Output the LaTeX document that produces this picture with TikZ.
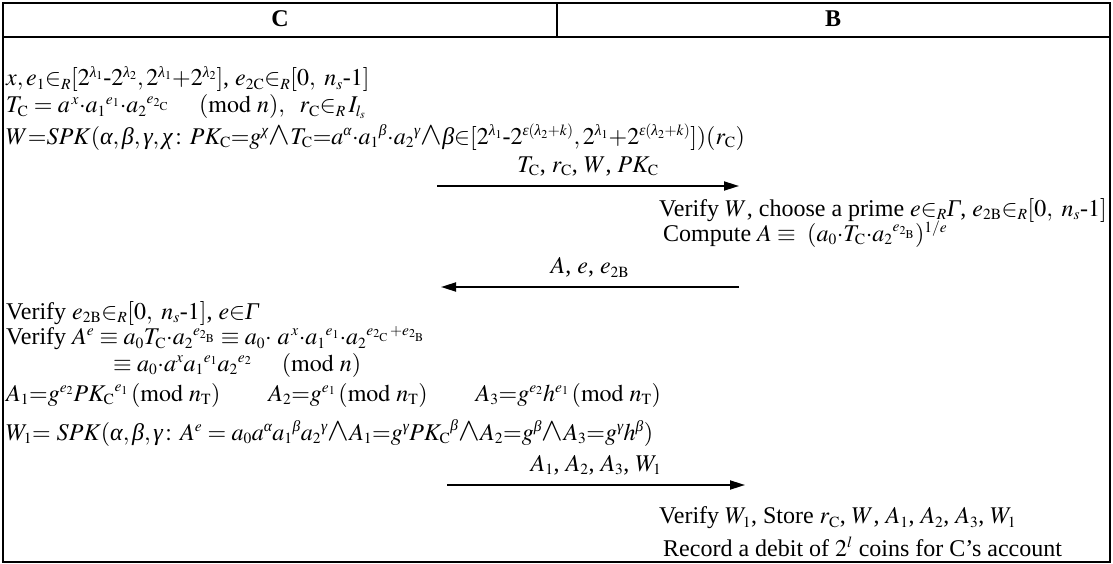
\documentclass[tikz,border=0pt]{standalone}
\usepackage{amsmath}
\usepackage{mathptmx}
\usepackage[no-math]{fontspec}
\setmainfont{Liberation Serif}
\usepackage{tikz}
\usetikzlibrary{arrows.meta,positioning}

\DeclareMathSizes{24}{24}{15.5}{12}
\newcommand{\inR}{\in_{R}}
\newcommand{\rmC}{\mathrm{C}}
\newcommand{\rmB}{\mathrm{B}}
\newcommand{\hy}{\mbox{-}}
\newcommand{\Gam}{\textit{Γ}}
\newcommand{\gal}{\textit{α}}
\newcommand{\gbe}{\textit{β}}
\newcommand{\gga}{\textit{γ}}
\newcommand{\gch}{\textit{χ}}
\newcommand{\gla}{\textit{λ}}
\newcommand{\gep}{\textit{ε}}
\newcommand{\band}{\mathbin{\scalebox{1.35}{$\wedge$}}}

\tikzset{
  txt/.style={inner sep=0pt, font=\fontsize{24}{28}\selectfont},
  msg/.style={line width=1.8pt, -{Triangle[length=15pt,width=9pt]}},
}

\begin{document}
\begin{tikzpicture}[x=1pt,y=-1pt]
\useasboundingbox (0,0) rectangle (1113,564);
% ----- table frame -----
\draw[line width=1.8pt] (3,3) rectangle (1110,562);
\draw[line width=1.5pt] (3,37) -- (1110,37);
\draw[line width=1.2pt] (557,3) -- (557,37);
\node[txt] (hC) at (280,19) {\textbf{C}};
\node[txt] (hB) at (833,19) {\textbf{B}};
% ----- C: commitment -----
\node[txt, anchor=west] (c1) at (6,79)
  {$x,e_1{\inR}[2^{\gla_1}\hy2^{\gla_2},2^{\gla_1}{+}2^{\gla_2}]$, $e_{2\rmC}{\inR}[0,\ n_s\hy1]$};
\node[txt, anchor=west] (c2) at (6,107)
  {$T_\rmC = a^{\,x}{\cdot}{a_1}^{e_1}{\cdot}{a_2}^{e_{2_\rmC}}\quad\ (\mathrm{mod}\ n),\ \ r_\rmC{\inR}\,I_{l_s}$};
\node[txt, anchor=west] (c3) at (6,137)
  {$W{=}SPK(\gal,\gbe,\gga,\gch\colon PK_\rmC{=}g^{\gch}{\band}T_\rmC{=}a^{\gal}{\cdot}{a_1}^{\gbe}{\cdot}{a_2}^{\gga}{\band}\gbe{\in}[2^{\gla_1}\hy2^{\gep(\gla_2+k)},2^{\gla_1}{+}2^{\gep(\gla_2+k)}])(r_\rmC)$};
% ----- message 1 -----
\coordinate (m1s) at (437,186);
\coordinate (m1e) at (739,186);
\draw[msg] (m1s) -- (m1e) node[txt, midway, above=9pt] (l1) {$T_\rmC$, $r_\rmC$, $W$, $PK_\rmC$};
% ----- B: issue -----
\node[txt, anchor=east] (b1) at (1107,210)
  {Verify $W$, choose a prime $e{\inR}\Gam$, $e_{2\rmB}{\inR}[0,\ n_s\hy1]$};
\node[txt, anchor=west] (b2) at ([xshift=4pt]b1.west |- 0,234)
  {Compute $A\equiv\ (a_0{\cdot}T_\rmC{\cdot}{a_2}^{e_{2_\rmB}})^{1/e}$};
% ----- message 2 -----
\coordinate (m2s) at (739,287);
\coordinate (m2e) at (441,287);
\draw[msg] (m2s) -- (m2e) node[txt, midway, above=9pt] (l2) {$A$, $e$, $e_{2\rmB}$};
% ----- C: check and prove -----
\node[txt, anchor=west] (c4) at (6,313)
  {Verify $e_{2\rmB}{\inR}[0,\ n_s\hy1]$, $e{\in}\Gam$};
\node[txt, anchor=west] (c5) at (6,338)
  {Verify $A^e\equiv a_0T_\rmC{\cdot}{a_2}^{e_{2_\rmB}}\equiv a_0{\cdot}\ a^{\,x}{\cdot}{a_1}^{e_1}{\cdot}{a_2}^{e_{2_\rmC}\,+e_{2_\rmB}}$};
\node[txt, anchor=west] (c6) at (113,365)
  {$\equiv a_0{\cdot}a^x{a_1}^{e_1}{a_2}^{e_2}\quad\ (\mathrm{mod}\ n)$};
\node[txt, anchor=west] (c7) at (6,395)
  {$A_1{=}g^{e_2}{PK_\rmC}^{e_1}\,(\mathrm{mod}\ n_\mathrm{T})\qquad A_2{=}g^{e_1}\,(\mathrm{mod}\ n_\mathrm{T})\qquad A_3{=}g^{e_2}h^{e_1}\,(\mathrm{mod}\ n_\mathrm{T})$};
\node[txt, anchor=west] (c8) at (6,433)
  {$W_1{=}\ SPK(\gal,\gbe,\gga\colon A^e=a_0a^{\gal}{a_1}^{\gbe}{a_2}^{\gga}{\band}A_1{=}g^{\gga}{PK_\rmC}^{\gbe}{\band}A_2{=}g^{\gbe}{\band}A_3{=}g^{\gga}h^{\gbe})$};
% ----- message 3 -----
\coordinate (m3s) at (447,485);
\coordinate (m3e) at (745,485);
\draw[msg] (m3s) -- (m3e) node[txt, midway, above=9pt] (l3) {$A_1$, $A_2$, $A_3$, $W_1$};
% ----- B: store -----
\node[txt, anchor=west] (b3) at (b1.west |- 0,518)
  {Verify $W_1$, Store $r_\rmC$, $W$, $A_1$, $A_2$, $A_3$, $W_1$};
\node[txt, anchor=west] (b4) at ([xshift=4pt]b1.west |- 0,547)
  {Record a debit of $2^l$ coins for C’s account};
\end{tikzpicture}
\end{document}
